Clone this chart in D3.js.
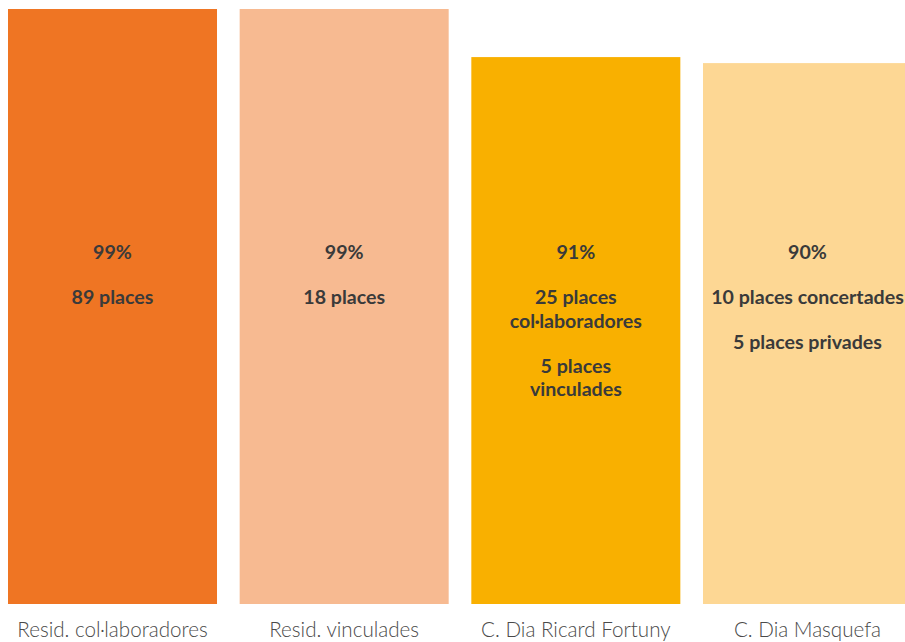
<!DOCTYPE html>
<html><head><meta charset="utf-8">
<script src="https://cdn.jsdelivr.net/npm/d3@7"></script>
<style>html,body{margin:0;padding:0;background:#fff;}</style>
</head><body>
<svg id="c" width="905" height="642"></svg>
<script>
const categories = ["Resid. col·laboradores", "Resid. vinculades", "C. Dia Ricard Fortuny", "C. Dia Masquefa"];
const values = [99, 99, 91, 90];
const colors = ["#EF7523", "#F7BA91", "#F9B000", "#FDD794"];
const annotations = [
  [["99%"], ["89 places"]],
  [["99%"], ["18 places"]],
  [["91%"], ["25 places", "col·laboradores"], ["5 places", "vinculades"]],
  [["90%"], ["10 places concertades"], ["5 places privades"]]
];

const svg = d3.select("#c");
const x = d3.scaleBand().domain(categories).range([8, 912]).paddingInner(0.0978).paddingOuter(0);
const y = d3.scaleLinear().domain([0, 100]).range([604, 3]);

svg.selectAll("rect.bar").data(categories).join("rect")
  .attr("class", "bar")
  .attr("x", d => x(d))
  .attr("y", (d, i) => y(values[i]))
  .attr("width", x.bandwidth())
  .attr("height", (d, i) => y(0) - y(values[i]))
  .attr("fill", (d, i) => colors[i]);

// inner annotations
const paraGap = 45, lineGap = 23.5, firstBaseline = 259;
categories.forEach((c, i) => {
  const cx = x(c) + x.bandwidth() / 2;
  let yy = firstBaseline;
  annotations[i].forEach((para, pi) => {
    if (pi > 0) yy += paraGap;
    para.forEach((line, li) => {
      if (li > 0) yy += lineGap;
      svg.append("text")
        .attr("x", cx).attr("y", yy)
        .attr("text-anchor", "middle")
        .attr("font-family", "Lato, 'Open Sans', sans-serif")
        .attr("font-weight", 700)
        .attr("font-size", 19.6)
        .attr("fill", "#3a3a3a")
        .text(line);
    });
  });
});

// axis
const axis = d3.axisBottom(x).tickSize(0).tickPadding(0);
const g = svg.append("g").attr("transform", "translate(0,618)").call(axis);
g.select(".domain").remove();
g.selectAll("text")
  .attr("dy", 0).attr("y", 19)
  .attr("font-family", "Lato, 'Open Sans', sans-serif")
  .attr("font-weight", 300)
  .attr("font-size", 20.6)
  .attr("fill", "#4a4a4a");
</script>
</body></html>
